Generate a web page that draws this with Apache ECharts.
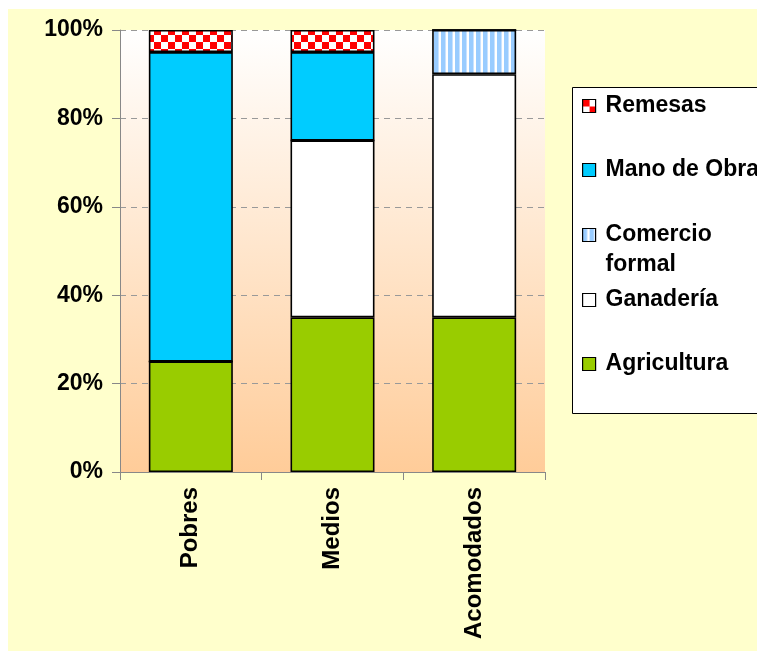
<!DOCTYPE html>
<html>
<head>
<meta charset="utf-8">
<script src="https://cdn.jsdelivr.net/npm/echarts@6/dist/echarts.min.js"></script>
<style>
html,body{margin:0;padding:0;background:#ffffff;width:757px;height:660px;overflow:hidden;}
#bg{position:absolute;left:8px;top:9px;width:749px;height:642px;background:#FFFFCC;}
#chart{position:absolute;left:0;top:0;width:757px;height:660px;}
</style>
</head>
<body>
<div id="bg"></div>
<div id="chart"></div>
<script>
// ---- data ----
var categories = ['Pobres', 'Medios', 'Acomodados'];
var agricultura = [25, 35, 35];
var ganaderia = [0, 40, 55];
var comercioFormal = [0, 0, 10];
var manoDeObra = [70, 20, 0];
var remesas = [5, 5, 0];
var yTicks = [0, 20, 40, 60, 80, 100];

// ---- patterns ----
function checker() {
  var c = document.createElement('canvas');
  var s = 7;
  c.width = s * 2; c.height = s * 2;
  var g = c.getContext('2d');
  g.fillStyle = '#ffffff'; g.fillRect(0, 0, s * 2, s * 2);
  g.fillStyle = '#ff0000';
  g.fillRect(0, 0, s, s); g.fillRect(s, s, s, s);
  return c;
}
function stripes() {
  var c = document.createElement('canvas');
  c.width = 7; c.height = 8;
  var g = c.getContext('2d');
  g.fillStyle = '#ffffff'; g.fillRect(0, 0, 7, 8);
  g.fillStyle = '#99CCFF'; g.fillRect(0, 0, 4, 8);
  g.fillStyle = '#C8E2FF'; g.fillRect(4, 0, 1, 8);
  return c;
}

var FONT = '"Liberation Sans", Arial, sans-serif';
var border = { borderColor: '#000000', borderWidth: 1.6 };

function bar(name, data, color) {
  return {
    name: name, type: 'bar', stack: 'total', data: data,
    barWidth: 84,
    itemStyle: Object.assign({ color: color }, border),
    emphasis: { disabled: true }
  };
}

var chart = echarts.init(document.getElementById('chart'), null, { renderer: 'canvas' });

function legendItem(name, centerY, textH) {
  return {
    data: [name],
    left: 582,
    top: centerY - textH / 2,
    orient: 'vertical',
    padding: 0,
    itemWidth: 13,
    itemHeight: 13,
    icon: 'rect',
    selectedMode: false,
    itemStyle: { borderColor: '#000000', borderWidth: 1.2 },
    textStyle: {
      fontFamily: FONT, fontSize: 23, fontWeight: 'bold', color: '#000000',
      lineHeight: 30, padding: [0, 0, 0, 5]
    },
    formatter: function (n) { return n === 'Comercio formal' ? '\nComercio\nformal' : n; }
  };
}

var option = {
  animation: false,
  backgroundColor: 'transparent',
  grid: {
    left: 120, top: 30, width: 425, height: 442,
    show: true, borderWidth: 0,
    backgroundColor: {
      type: 'linear', x: 0, y: 0, x2: 0, y2: 1,
      colorStops: [{ offset: 0, color: '#FFFFFF' }, { offset: 1, color: '#FFCC99' }]
    }
  },
  graphic: [{
    type: 'rect', z: -1,
    shape: { x: 572.5, y: 87.5, width: 200, height: 326 },
    style: { fill: '#FFFFFF', stroke: '#000000', lineWidth: 1 }
  }],
  legend: [
    legendItem('Remesas', 106, 30),
    legendItem('Mano de Obra', 170, 30),
    legendItem('Comercio formal', 235, 90),
    legendItem('Ganadería', 300, 30),
    legendItem('Agricultura', 364, 30)
  ],
  xAxis: {
    type: 'category',
    data: categories,
    axisLine: { lineStyle: { color: '#888888', width: 1 } },
    axisTick: { show: true, length: 8, lineStyle: { color: '#888888' } },
    axisLabel: {
      rotate: 90, margin: 15, fontFamily: FONT, fontSize: 24, fontWeight: 'bold', color: '#000000'
    }
  },
  yAxis: {
    type: 'value', min: 0, max: 100, interval: 20,
    axisLine: { show: true, lineStyle: { color: '#888888', width: 1 } },
    axisTick: { show: true, length: 8, lineStyle: { color: '#888888' } },
    splitLine: { show: true, lineStyle: { color: '#999999', type: [6, 5], width: 1 } },
    axisLabel: {
      margin: 17, fontFamily: FONT, fontSize: 23, fontWeight: 'bold', color: '#000000',
      customValues: yTicks,
      formatter: function (v) { return v + '%'; }
    }
  },
  series: [
    bar('Agricultura', agricultura, '#99CC00'),
    bar('Ganadería', ganaderia, '#FFFFFF'),
    bar('Comercio formal', comercioFormal, { image: stripes(), repeat: 'repeat' }),
    bar('Mano de Obra', manoDeObra, '#00CCFF'),
    bar('Remesas', remesas, { image: checker(), repeat: 'repeat' })
  ]
};
chart.setOption(option);
</script>
</body>
</html>
